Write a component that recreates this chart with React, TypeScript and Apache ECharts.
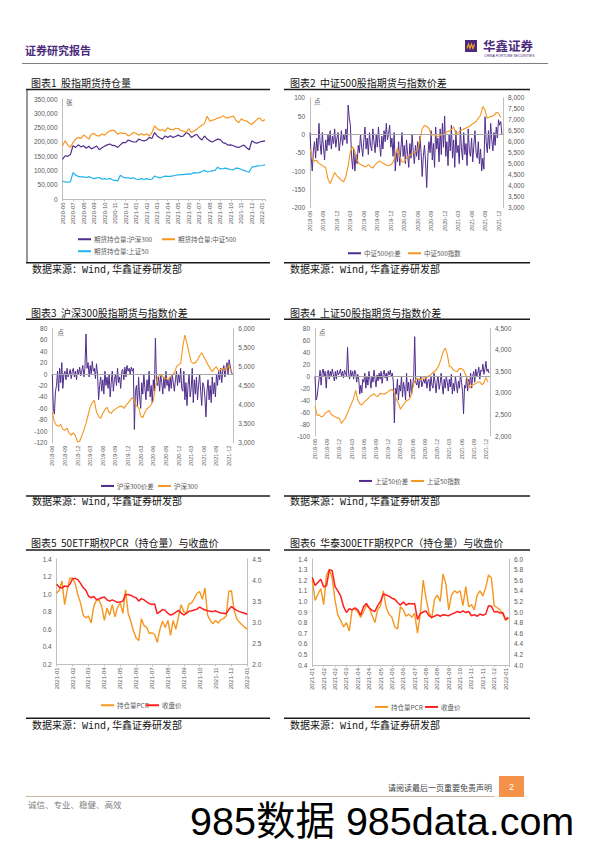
import React, { useEffect, useRef } from "react";
import * as echarts from "echarts";

// ---------------- Chart 1: 股指期货持仓量 (4 points / month, from 2020-06) ----------------
const C1_LABELS = ["2020-06","2020-07","2020-08","2020-09","2020-10","2020-11","2020-12","2021-01","2021-02","2021-03","2021-04","2021-05","2021-06","2021-07","2021-08","2021-09","2021-10","2021-11","2021-12","2022-01"];
const C1_HS300 = [
  139000,152000,150000,156000, 187000,181000,190000,183000, 187000,178000,185000,176000, 181000,186000,173000,180000,
  185000,190000,193000,188000, 187000,181000,190000,198000, 198000,207000,203000,200000, 200000,210000,206000,204000,
  207000,216000,212000,233000, 221000,215000,210000,221000, 216000,222000,216000,219000, 224000,219000,221000,233000,
  228000,216000,222000,227000, 215000,207000,221000,210000, 204000,200000,205000,210000, 208000,198000,195000,189000,
  190000,187000,183000,181000, 185000,189000,180000,173000, 204000,198000,196000,200000, 202000,204000,
];
const C1_ZZ500 = [
  187000,204000,190000,181000, 198000,210000,216000,212000, 224000,218000,210000,227000, 230000,222000,221000,228000,
  224000,233000,238000,242000, 238000,227000,232000,230000, 230000,221000,226000,233000, 230000,224000,229000,224000,
  229000,221000,233000,256000, 247000,240000,244000,236000, 250000,244000,242000,248000, 247000,240000,238000,233000,
  247000,233000,238000,244000, 252000,258000,265000,290000, 273000,276000,279000,284000, 285000,292000,285000,284000,
  288000,290000,275000,267000, 281000,275000,273000,266000, 261000,270000,279000,284000, 273000,278000,
];
const C1_SZ50 = [
  63000,61000,60000,61000, 93000,85000,80000,78000, 78000,76000,79000,75000, 72000,75000,76000,70000,
  72000,70000,73000,68000, 66000,64000,84000,78000, 75000,75000,73000,75000, 70000,69000,72000,69000,
  72000,69000,70000,81000, 78000,75000,78000,81000, 80000,80000,82000,84000, 85000,86000,86000,88000,
  89000,88000,93000,92000, 93000,97000,101000,96000, 97000,100000,101000,112000, 106000,107000,109000,106000,
  104000,103000,109000,108000, 104000,101000,97000,95000, 112000,114000,116000,117000, 118000,120000,
];

// ---------------- Charts 2-4: quarterly tick labels, spread 4 pts/month, index 2 pts/month ----------------
const Q_LABELS = ["2018-06","2018-09","2018-12","2019-03","2019-06","2019-09","2019-12","2020-03","2020-06","2020-09","2020-12","2021-03","2021-06","2021-09","2021-12"];

const C2_SPREAD = [
  5,-60,-100,-45, -20,-65,-10,-45, 30,-25,-55,5, -35,-70,-15,-45, 0,-30,10,-40, -5,-25,15,-35,
  -10,5,-45,-20, 10,-30,0,-15, 15,-25,80,45, 25,-60,-95,-40, -100,-55,-80,-30, -50,0,-35,-60,
  -15,20,-40,-10, -55,5,-30,-45, 15,-20,-50,0, -35,20,-25,-60, -5,-40,10,-20, 30,-15,0,25,
  -35,-10,-60,5, -100,-50,-75,-20, -85,-40,5,-60, -30,-80,-15,-55, -90,-25,-65,0, -45,-80,-30,-60,
  -20,-70,-5,-50, -115,-60,-30,-75, -145,-60,-20,-50, 10,-70,-25,-90, 20,-40,-10,-75, 15,-55,30,-35,
  50,-60,-20,-85, 0,-45,25,-65, -15,-90,10,-50, -30,-80,20,-40, -70,5,-55,-25, -85,15,-45,-60,
  -10,-75,-30,10, -50,-65,-20,-80, -40,-100,-65,-95, 48,-20,-50,10, -40,30,-15,-45, 5,-30,20,-10,
  40,25,35,0,
];
const C2_INDEX = [
  5700,5250, 5120,5150, 5015,4950, 4880,4820, 4300,4100, 4350,4600, 4450,4350, 4250,4180, 4420,4900,
  5550,5770, 5550,5150, 5000,4940, 4880,4860, 4970,4850, 4800,4950, 5060,5120, 5050,5000, 4940,4910,
  4950,5060, 5400,5700, 5320,5080, 5100,5240, 5350,5420, 5470,5550, 5650,6050, 6600,6750, 6690,6600,
  6300,6330, 6280,6230, 6300,6320, 6340,6450, 6480,6550, 6680,6350, 6400,6500, 6540,6600, 6650,6690,
  6780,6850, 6920,7060, 7200,7600, 7440,7060, 7130,7150, 7200,7330, 7300,7100,
];

const C3_SPREAD = [
  0,-60,-70,-30, -20,5,-30,10, -15,20,-25,0, 5,-10,10,-5, 0,8,-8,5, 10,-5,5,-10, 8,0,12,-3, 5,15,-5,10,
  70,10,20,-5, 15,0,22,5, 10,-8,18,0, -45,-20,-5,-30, -10,-35,5,-20, -5,-25,0,-40, -15,5,-30,-10,
  0,-20,10,-15, -5,-25,5,8, -10,12,-5,15, 5,10,0,12, 5,10,-97,-30, -20,-55,-5,-40, -60,-15,-35,0,
  -25,-45,-10,-30, 5,-40,-20,-50, -10,-30,63,-15, -20,-5,-30,0, -15,-35,-5,-25, 5,-20,-10,-30,
  -5,-25,0,-15, -30,-10,5,-20, 0,-15,10,-25, -30,5,-45,-15, -55,-20,0,-40, -25,10,-50,-10,
  -35,-5,-45,-20, 0,-30,-55,-15, -20,-40,-75,-30, -10,-45,-20,-50, -5,-35,-15,-40, 0,-20,5,-10,
  10,-15,5,15, -5,10,20,0, 25,15,5,0,
];
const C3_INDEX = [
  3800,3550, 3450,3430, 3480,3350, 3330,3380, 3250,3200, 3260,3180, 3020,3040, 3180,3330, 3500,3720,
  3940,4050, 4110,3800, 3700,3640, 3780,3860, 3930,3800, 3770,3850, 3880,3920, 3950,3960, 3900,3980,
  4040,4110, 4180,4100, 3960,3930, 3700,3660, 3800,3890, 3930,4000, 4100,4450, 4720,4760, 4770,4700,
  4680,4660, 4720,4780, 4830,4990, 5050,5080, 5520,5820, 5600,5350, 5120,5080, 5100,5170, 5280,5360,
  5250,5150, 5040,4950, 4860,4950, 4990,4880, 4920,4950, 4900,4940, 5030,4850,
];

const C4_SPREAD = [
  0,-40,-35,-20, -5,10,-15,5, 12,0,8,-20, 5,10,-5,8, 0,12,3,-8, 8,-5,10,2, 5,12,0,8, -3,10,5,0,
  48,5,-5,10, 0,8,-5,10, 5,-10,3,-5, -30,-15,-28,-5, -10,5,-20,0, -15,8,-5,-20, 0,-10,10,-5,
  -18,2,-8,5, -5,8,-12,3, 10,-3,5,-8, 8,2,10,0, 5,-10,-78,-20, -30,-5,-40,-15, -25,0,-35,-10,
  -20,-40,5,-25, -10,-35,-5,-30, -15,0,66,-10, -15,-5,-20,-8, 0,-18,-10,-5, -12,-3,-20,-8,
  -5,-25,0,-15, -20,5,-10,-28, -8,0,-22,-12, 5,-15,-30,-5, -20,0,-10,-25, -5,-18,3,-30,
  -12,-25,0,-15, -28,-8,-20,5, -10,-25,-63,-15, -20,0,-25,-5, -15,5,-20,0, 8,-10,12,0,
  5,15,-5,10, 8,20,3,12, 25,8,12,5,
];
const C4_INDEX = [
  2700,2480, 2490,2450, 2460,2530, 2560,2590, 2500,2470, 2440,2420, 2410,2290, 2360,2420, 2540,2650,
  2760,2880, 3060,2840, 2750,2720, 2780,2820, 2870,2920, 2950,2980, 2930,2920, 2990,2980, 2970,3000,
  3030,3070, 3080,2990, 2850,2760, 2620,2700, 2760,2820, 2840,2900, 3100,3280, 3340,3320, 3300,3340,
  3370,3340, 3400,3420, 3480,3500, 3570,3650, 3800,3960, 4040,3900, 3620,3600, 3530,3510, 3500,3570,
  3560,3530, 3420,3300, 3110,3180, 3190,3220, 3250,3260, 3190,3230, 3360,3250,
];

// ---------------- Chart 5: 50ETF PCR & close (6 pts / month, from 2021-01) ----------------
const C5_LABELS = ["2021-01","2021-02","2021-03","2021-04","2021-05","2021-06","2021-07","2021-08","2021-09","2021-10","2021-11","2021-12","2022-01"];
const C5_PCR = [
  1.01,1.05,1.15,0.88,1.05,1.18, 1.18,1.12,0.99,0.90,0.76,0.73, 0.75,0.67,0.86,0.93,0.93,0.86,
  0.70,0.84,0.76,0.88,0.74,0.85, 0.90,0.78,1.05,0.78,0.69,0.58, 0.50,0.47,0.72,0.64,0.62,0.55,
  0.56,0.54,0.45,0.60,0.69,0.62, 0.70,0.53,0.70,0.60,0.74,0.88, 0.80,0.78,0.89,0.90,0.95,1.01,
  1.03,0.94,1.07,0.76,0.70,0.66, 0.70,0.67,0.71,0.72,0.75,1.03, 1.04,0.82,0.72,0.68,0.65,0.62, 0.60,
];
const C5_CLOSE = [
  3.90,3.83,3.81,3.86,3.84,3.90, 4.03,4.04,4.01,3.92,3.82,3.76, 3.62,3.58,3.61,3.54,3.55,3.58,
  3.60,3.53,3.50,3.53,3.50,3.47, 3.48,3.50,3.66,3.65,3.64,3.60, 3.58,3.50,3.56,3.53,3.48,3.44,
  3.42,3.43,3.20,3.25,3.30,3.28, 3.21,3.17,3.19,3.24,3.28,3.22, 3.17,3.21,3.26,3.27,3.29,3.31,
  3.36,3.32,3.29,3.27,3.26,3.25, 3.27,3.24,3.22,3.21,3.20,3.30, 3.37,3.32,3.28,3.25,3.23,3.21, 3.19,
];

// ---------------- Chart 6: 华泰300ETF PCR & close (4 pts per label step) ----------------
const C6_LABELS = ["2021-01","2021-02","2021-02","2021-03","2021-04","2021-04","2021-05","2021-06","2021-06","2021-07","2021-08","2021-08","2021-09","2021-10","2021-11","2021-11","2021-12","2022-01"];
const C6_PCR = [
  1.20,1.01,1.07,1.12, 0.97,1.25,1.30,1.22, 1.01,0.87,0.82,0.76, 0.80,0.72,0.92,0.93, 0.90,0.85,0.90,0.96,
  0.94,0.87,0.80,0.92, 0.96,1.10,0.94,0.88, 0.85,0.76,0.74,0.95, 0.92,0.86,0.88,0.85, 0.89,0.70,0.88,1.20,
  1.03,0.90,0.84,1.02, 1.06,1.00,1.26,1.16, 0.92,1.06,1.10,1.08, 1.10,0.96,1.14,0.95, 0.97,0.92,1.06,1.10,
  1.05,1.13,1.25,1.22, 0.96,0.94,0.92,0.88, 0.82,0.84,
];
const C6_CLOSE = [
  5.65,5.50,5.56,5.62, 5.47,5.50,5.80,5.78, 5.48,5.40,5.30,5.10, 4.99,5.06,5.04,5.08, 5.04,4.94,5.10,5.16,
  5.08,5.03,5.01,5.12, 5.20,5.34,5.32,5.30, 5.26,5.24,5.18,5.13, 5.19,5.13,5.16,5.15, 5.16,4.86,4.97,5.00,
  5.02,4.93,4.90,4.92, 4.95,4.92,4.95,4.94, 4.93,4.96,4.98,5.01, 4.99,5.02,4.99,5.01, 4.93,4.95,4.92,4.96,
  4.94,4.96,5.12,5.11, 5.00,5.01,4.98,4.99, 4.86,4.90,
];

// ---------------- styling ----------------
const PURPLE = "#4F2D8C";
const ORANGE = "#F5961F";
const BLUE = "#1FB3EA";
const RED = "#FF1E1E";
const AXIS = "#BFBFBF";
const LABEL = "#595959";
const NUM_FONT = "'Liberation Sans', Arial, sans-serif";
const CJK_FONT = "'Noto Sans CJK SC', sans-serif";
const SRC_FONT = "'Liberation Mono', 'Noto Sans CJK SC', monospace";

const pts = (arr: number[], step: number) => arr.map((v, i) => [i * step, v]);
const comma = (v: number) => Math.round(v).toLocaleString("en-US");
const fix1 = (v: number) => v.toFixed(1);

function yAx(grid: number, pos: string, min: number, max: number, interval: number, fmt: (v: number) => string) {
  return {
    type: "value", gridIndex: grid, position: pos, min, max, interval,
    axisLine: { show: true, lineStyle: { color: AXIS, width: 1 } },
    axisTick: { show: false }, splitLine: { show: false },
    axisLabel: { color: LABEL, fontSize: 6.5, fontFamily: NUM_FONT, margin: 5, formatter: fmt },
  };
}

function xAx(grid: number, max: number, interval: number, labels: string[], fontSize: number, showLine: boolean) {
  return {
    type: "value", gridIndex: grid, min: 0, max, interval,
    axisLine: { show: showLine, onZero: false, lineStyle: { color: AXIS, width: 1 } },
    axisTick: { show: showLine, length: 2, lineStyle: { color: AXIS } },
    splitLine: { show: false },
    axisLabel: {
      color: LABEL, fontSize, fontFamily: NUM_FONT, rotate: 90, margin: 3,
      formatter: (v: number) => {
        const k = v / interval;
        if (Math.abs(k - Math.round(k)) > 1e-6) return "";
        return labels[Math.round(k)] ?? "";
      },
    },
  };
}

function line(name: string, data: number[][], xi: number, yi: number, color: string, width: number, extra: any = {}) {
  return {
    type: "line", name, data, xAxisIndex: xi, yAxisIndex: yi, color,
    symbol: "none", showSymbol: false, lineStyle: { color, width }, itemStyle: { color },
    silent: true, ...extra,
  };
}

const zeroLine = {
  markLine: {
    silent: true, symbol: ["none", "none"], label: { show: false },
    lineStyle: { color: "#A6A6A6", width: 1, type: "solid" },
    data: [{ yAxis: 0 }],
  },
};

function leg(name: string, left: number, cy: number) {
  return {
    data: [name], left, top: cy - 4, padding: 0, itemGap: 0, itemWidth: 13, itemHeight: 2,
    icon: "rect", selectedMode: false,
    textStyle: { fontSize: 6.5, color: LABEL, fontFamily: CJK_FONT, padding: [0, 0, 0, -2] },
  };
}

function txt(text: string, x: number, y: number, fontSize: number, fill: string, extra: any = {}) {
  return {
    type: "text", x, y, silent: true,
    style: { text, fill, fontSize, fontFamily: CJK_FONT, verticalAlign: "middle", align: "left", ...extra },
  };
}

function hline(x1: number, x2: number, y: number, stroke: string, lineWidth: number) {
  return { type: "line", silent: true, shape: { x1, y1: y, x2, y2: y }, style: { stroke, lineWidth } };
}

export default function App() {
  const ref = useRef<HTMLDivElement>(null);
  useEffect(() => {
    if (!ref.current) return;
    const chart = echarts.init(ref.current, undefined, { renderer: "svg" });

    const grids = [
      { left: 62.5, top: 99, width: 202.5, height: 100.3 },
      { left: 310, top: 97.7, width: 193, height: 110 },
      { left: 52.3, top: 328.3, width: 181, height: 114.4 },
      { left: 315, top: 328.3, width: 175, height: 107.7 },
      { left: 56.7, top: 559, width: 190.6, height: 105.3 },
      { left: 312.3, top: 559, width: 196.7, height: 106 },
    ].map((g) => ({ ...g, containLabel: false, outerBoundsMode: "none" }));

    const elements: any[] = [
      // header
      txt("证券研究报告", 25, 50, 11, "#4B2A7B", { fontWeight: "bold" }),
      { type: "rect", silent: true, shape: { x: 465, y: 40, width: 12, height: 12 }, style: { fill: "#4B2A7B" } },
      { type: "polyline", silent: true, shape: { points: [[467, 48.5], [468.5, 44], [470, 48.5], [471.5, 44], [473, 48.5], [474.5, 44]] }, style: { stroke: "#F5A623", lineWidth: 1.1, fill: null } },
      txt("华鑫证券", 483, 45, 12.5, "#4B2A7B", { fontWeight: "bold" }),
      txt("CHINA FORTUNE SECURITIES", 484, 56, 3.5, "#4B2A7B", { fontFamily: NUM_FONT }),
      hline(22, 548, 63.5, "#7F7F7F", 1.2),
      // titles
      txt("图表1  股指期货持仓量", 31, 82.5, 10, "#111"),
      txt("图表2  中证500股指期货与指数价差", 290, 82.5, 10, "#111"),
      txt("图表3  沪深300股指期货与指数价差", 31, 312.7, 10, "#111"),
      txt("图表4  上证50股指期货与指数价差", 290, 312.7, 10, "#111"),
      txt("图表5  50ETF期权PCR（持仓量）与收盘价", 31, 542.5, 10, "#111"),
      txt("图表6  华泰300ETF期权PCR（持仓量）与收盘价", 290, 542.5, 10, "#111"),
      hline(26, 270, 89.5, "#1A1A1A", 1.5), hline(284, 530, 89.5, "#1A1A1A", 1.5),
      hline(26, 270, 319.3, "#1A1A1A", 1.5), hline(284, 530, 319.3, "#1A1A1A", 1.5),
      hline(26, 270, 550, "#1A1A1A", 1.5), hline(284, 530, 550, "#1A1A1A", 1.5),
      { type: "line", silent: true, shape: { x1: 27, y1: 89.5, x2: 27, y2: 262.7 }, style: { stroke: "#333", lineWidth: 1 } },
      // sources
      hline(26, 270, 262.7, "#1A1A1A", 1.5), hline(284, 530, 262.7, "#1A1A1A", 1.5),
      hline(26, 270, 496, "#1A1A1A", 1.5), hline(284, 530, 496, "#1A1A1A", 1.5),
      hline(26, 270, 718.3, "#1A1A1A", 1.5), hline(284, 530, 718.3, "#1A1A1A", 1.5),
      txt("数据来源：Wind,华鑫证券研发部", 32, 270.3, 10, "#111", { fontFamily: SRC_FONT }),
      txt("数据来源：Wind,华鑫证券研发部", 290, 270.3, 10, "#111", { fontFamily: SRC_FONT }),
      txt("数据来源：Wind,华鑫证券研发部", 32, 502.5, 10, "#111", { fontFamily: SRC_FONT }),
      txt("数据来源：Wind,华鑫证券研发部", 290, 502.5, 10, "#111", { fontFamily: SRC_FONT }),
      txt("数据来源：Wind,华鑫证券研发部", 32, 726.7, 10, "#111", { fontFamily: SRC_FONT }),
      txt("数据来源：Wind,华鑫证券研发部", 290, 726.7, 10, "#111", { fontFamily: SRC_FONT }),
      // units
      txt("张", 66, 102, 6.5, LABEL),
      txt("点", 314, 100.5, 6.5, LABEL),
      txt("点", 57.5, 331.5, 6.5, LABEL),
      txt("点", 319, 331.5, 6.5, LABEL),
      // footer
      txt("请阅读最后一页重要免责声明", 492, 787, 8, "#404040", { align: "right" }),
      { type: "rect", silent: true, shape: { x: 499, y: 776, width: 25, height: 21 }, style: { fill: "#F4924A" } },
      txt("2", 511.5, 787, 9, "#fff", { align: "center", fontFamily: NUM_FONT }),
      hline(26, 495, 796.5, "#C9B99B", 1),
      txt("诚信、专业、稳健、高效", 28, 804, 8.5, "#808080"),
      txt("985数据 985data.com", 190, 821, 39.5, "#000", { fontFamily: "'Liberation Sans', 'Noto Sans CJK SC', sans-serif" }),
    ];

    const option: any = {
      animation: false,
      backgroundColor: "#ffffff",
      grid: grids,
      xAxis: [
        xAx(0, 19.25, 1, C1_LABELS, 6, true),
        xAx(1, 43, 3, Q_LABELS, 5.5, false),
        xAx(2, 43, 3, Q_LABELS, 5.5, false),
        xAx(3, 43, 3, Q_LABELS, 5.5, false),
        xAx(4, 12, 1, C5_LABELS, 6, true),
        xAx(5, 17.3, 1, C6_LABELS, 6, true),
      ],
      yAxis: [
        yAx(0, "left", 0, 350000, 50000, comma),
        yAx(1, "left", -200, 100, 50, comma),
        yAx(1, "right", 3000, 8000, 500, comma),
        yAx(2, "left", -120, 80, 20, comma),
        yAx(2, "right", 3000, 6000, 500, comma),
        yAx(3, "left", -100, 80, 20, comma),
        yAx(3, "right", 2000, 4500, 500, comma),
        yAx(4, "left", 0.2, 1.4, 0.2, fix1),
        yAx(4, "right", 2.0, 4.5, 0.5, fix1),
        yAx(5, "left", 0.4, 1.4, 0.1, fix1),
        yAx(5, "right", 4.0, 6.0, 0.2, fix1),
      ],
      legend: [
        leg("期货持仓量:沪深300", 78, 240),
        leg("期货持仓量:中证500", 162, 240),
        leg("期货持仓量:上证50", 78, 252),
        leg("中证500价差", 348, 254),
        leg("中证500指数", 408, 254),
        leg("沪深300价差", 101, 486.7),
        leg("沪深300", 158, 486.7),
        leg("上证50价差", 359, 481.7),
        leg("上证50指数", 411, 481.7),
        leg("持仓量PCR", 101, 706),
        leg("收盘价", 146, 706),
        leg("持仓量PCR", 375, 707.7),
        leg("收盘价", 425, 707.7),
      ],
      series: [
        line("期货持仓量:沪深300", pts(C1_HS300, 0.25), 0, 0, PURPLE, 1.2),
        line("期货持仓量:中证500", pts(C1_ZZ500, 0.25), 0, 0, ORANGE, 1.2),
        line("期货持仓量:上证50", pts(C1_SZ50, 0.25), 0, 0, BLUE, 1.2),
        line("中证500价差", pts(C2_SPREAD, 0.25), 1, 1, PURPLE, 1, zeroLine),
        line("中证500指数", pts(C2_INDEX, 0.5), 1, 2, ORANGE, 1.1),
        line("沪深300价差", pts(C3_SPREAD, 0.25), 2, 3, PURPLE, 1, zeroLine),
        line("沪深300", pts(C3_INDEX, 0.5), 2, 4, ORANGE, 1.1),
        line("上证50价差", pts(C4_SPREAD, 0.25), 3, 5, PURPLE, 1, zeroLine),
        line("上证50指数", pts(C4_INDEX, 0.5), 3, 6, ORANGE, 1.1),
        line("持仓量PCR", pts(C5_PCR, 1 / 6), 4, 7, ORANGE, 1.4),
        line("收盘价", pts(C5_CLOSE, 1 / 6), 4, 8, RED, 1.5),
        line("持仓量PCR", pts(C6_PCR, 0.25), 5, 9, ORANGE, 1.4),
        line("收盘价", pts(C6_CLOSE, 0.25), 5, 10, RED, 1.5),
      ],
      graphic: { elements },
    };

    chart.setOption(option);
    return () => chart.dispose();
  }, []);

  return (
    <div
      ref={ref}
      style={{ position: "absolute", left: 0, top: 0, width: 596, height: 842, background: "#fff" }}
    />
  );
}
